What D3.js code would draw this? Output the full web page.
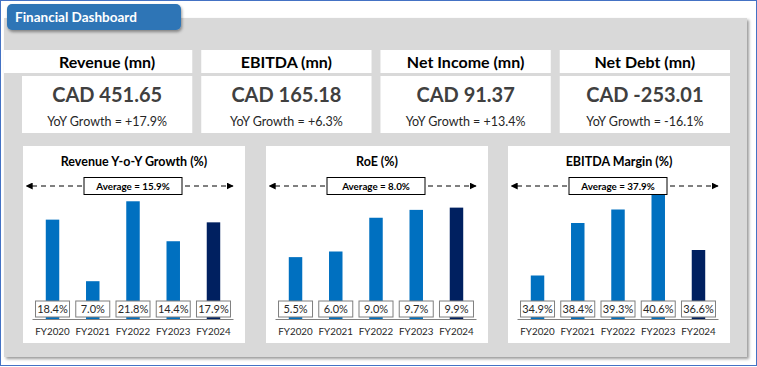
<!DOCTYPE html>
<html lang="en">
<head>
<meta charset="UTF-8">
<title>Financial Dashboard</title>
<script src="https://d3js.org/d3.v7.min.js"></script>
<style>
    html, body { margin: 0; padding: 0; background: #fff; }
    body { font-family: 'Lato', 'Open Sans', sans-serif; }
    svg { display: block; }
</style>
</head>
<body>
<div id="dash"></div>
<script>
    // KPI cards
    const kpiTitles = ["Revenue (mn)", "EBITDA (mn)", "Net Income (mn)", "Net Debt (mn)"];
    const kpiValues = [451.65, 165.18, 91.37, -253.01];
    const kpiGrowth = [17.9, 6.3, 13.4, -16.1];

    // charts
    const years = ["FY2020", "FY2021", "FY2022", "FY2023", "FY2024"];
    const revenueGrowth = [18.4, 7.0, 21.8, 14.4, 17.9];
    const roe = [5.5, 6.0, 9.0, 9.7, 9.9];
    const ebitdaMargin = [34.9, 38.4, 39.3, 40.6, 36.6];
    const chartTitles = ["Revenue Y-o-Y Growth (%)", "RoE (%)", "EBITDA Margin (%)"];
    const chartAverages = [15.9, 8.0, 37.9];
    const chartDomains = [[0, 25], [0, 12], [32, 41]];

    const W = 757, H = 367;
    const svg = d3.select("#dash").append("svg")
        .attr("width", W).attr("height", H);

    const defs = svg.append("defs");
    const sh = defs.append("filter").attr("id", "shadow")
        .attr("x", "-5%").attr("y", "-5%").attr("width", "110%").attr("height", "115%");
    sh.append("feDropShadow").attr("dx", 2).attr("dy", 2).attr("stdDeviation", 1.5)
        .attr("flood-color", "#000").attr("flood-opacity", 0.4);
    const sh2 = defs.append("filter").attr("id", "tabShadow")
        .attr("x", "-10%").attr("y", "-20%").attr("width", "120%").attr("height", "150%");
    sh2.append("feDropShadow").attr("dx", 1).attr("dy", 2).attr("stdDeviation", 1.5)
        .attr("flood-color", "#000").attr("flood-opacity", 0.4);

    ["start", "end"].forEach(k => {
        defs.append("marker").attr("id", "arrow-" + k)
            .attr("viewBox", "0 0 10 10").attr("refX", k === "end" ? 9 : 1).attr("refY", 5)
            .attr("markerWidth", 7).attr("markerHeight", 7)
            .attr("markerUnits", "userSpaceOnUse")
            .attr("orient", "auto-start-reverse")
            .append("path").attr("d", "M0,0 L10,5 L0,10 z").attr("fill", "#000");
    });

    // outer frame
    svg.append("rect").attr("x", 0.5).attr("y", 0.5).attr("width", W - 1).attr("height", H - 2)
        .attr("fill", "#fff").attr("stroke", "#4472c4").attr("stroke-width", 1);

    // grey panel
    svg.append("rect").attr("x", 4).attr("y", 18).attr("width", 743).attr("height", 339)
        .attr("fill", "#d9d9d9").attr("filter", "url(#shadow)");

    // header tab
    svg.append("rect").attr("x", 7).attr("y", 4).attr("width", 174).attr("height", 26)
        .attr("rx", 5).attr("fill", "#2e75b6").attr("filter", "url(#tabShadow)");
    svg.append("text").attr("x", 15).attr("y", 22)
        .attr("fill", "#fff").attr("font-weight", 700).attr("font-size", 13.5)
        .text("Financial Dashboard");

    // KPI cards
    const cardX = d3.scaleBand().domain(d3.range(4)).range([22, 730]).paddingInner(0.05);
    kpiTitles.forEach((t, i) => {
        const x0 = cardX(i), w = cardX.bandwidth();
        const tx = i === 0 ? 4 : x0;
        const tw = i === 0 ? x0 + w - 4 : w;
        const g = svg.append("g");
        g.append("rect").attr("x", tx).attr("y", 50).attr("width", tw).attr("height", 23).attr("fill", "#fff");
        g.append("rect").attr("x", x0).attr("y", 76).attr("width", w).attr("height", 57).attr("fill", "#fff");
        const cx = x0 + w / 2;
        g.append("text").attr("x", cx).attr("y", 67.5).attr("text-anchor", "middle")
            .attr("font-weight", 700).attr("font-size", 16).attr("fill", "#000").text(t);
        g.append("text").attr("x", cx).attr("y", 102).attr("text-anchor", "middle")
            .attr("font-weight", 700).attr("font-size", 20).attr("fill", "#404040")
            .text("CAD " + kpiValues[i].toFixed(2));
        const gr = kpiGrowth[i];
        g.append("text").attr("x", cx).attr("y", 126).attr("text-anchor", "middle")
            .attr("font-size", 12.5).attr("fill", "#262626")
            .text("YoY Growth = " + (gr >= 0 ? "+" : "") + gr.toFixed(1) + "%");
    });

    // bar charts
    const chartSeries = [revenueGrowth, roe, ebitdaMargin];
    const panelX = [23, 266, 508];
    const panelW = 222, panelTop = 146, panelH = 197;
    const baseY = 319, plotH = 135;

    chartSeries.forEach((vals, ci) => {
        const px = panelX[ci];
        const g = svg.append("g");
        g.append("rect").attr("x", px).attr("y", panelTop).attr("width", panelW).attr("height", panelH)
            .attr("fill", "#fff");

        const x = d3.scaleBand().domain(years).range([px + 9.5, px + 210.5]).paddingInner(0.665).paddingOuter(0.33);
        const y = d3.scaleLinear().domain(chartDomains[ci]).range([baseY, baseY - plotH]);

        g.append("text").attr("x", px + panelW / 2).attr("y", 166).attr("text-anchor", "middle")
            .attr("font-weight", 700).attr("font-size", 12.5).attr("fill", "#000")
            .text(chartTitles[ci]);

        // bars
        g.selectAll(".bar").data(vals).join("rect")
            .attr("x", (d, i) => x(years[i]))
            .attr("y", d => y(d))
            .attr("width", x.bandwidth())
            .attr("height", d => baseY - y(d))
            .attr("fill", (d, i) => i === vals.length - 1 ? "#002060" : "#0070c0");

        // axis
        const axis = g.append("g").attr("transform", `translate(0,${baseY})`)
            .call(d3.axisBottom(x).tickSize(0).tickPadding(9));
        axis.select(".domain").attr("stroke", "#808080").attr("d", `M${px + 9.5},0.5H${px + 210.5}`);
        axis.selectAll("text").attr("font-family", "Lato, sans-serif").attr("font-size", 9.8).attr("fill", "#262626");

        // value label boxes
        const lab = g.selectAll(".lab").data(vals).join("g")
            .attr("transform", (d, i) => `translate(${x(years[i]) + x.bandwidth() / 2},309)`);
        lab.append("rect").attr("x", -17).attr("y", -8).attr("width", 34).attr("height", 16)
            .attr("fill", "#fff").attr("stroke", "#7f7f7f").attr("stroke-width", 1);
        lab.append("text").attr("y", 4).attr("text-anchor", "middle")
            .attr("font-size", 11).attr("fill", "#262626")
            .text(d => d.toFixed(1) + "%");

        // average annotation
        const cx = px + panelW / 2 - 1;
        g.append("line").attr("x1", px + 9).attr("x2", px + 210).attr("y1", 186).attr("y2", 186)
            .attr("stroke", "#000").attr("stroke-width", 1).attr("stroke-dasharray", "5,4")
            .attr("marker-start", "url(#arrow-start)").attr("marker-end", "url(#arrow-end)");
        g.append("rect").attr("x", cx - 49).attr("y", 177.5).attr("width", 98).attr("height", 17)
            .attr("fill", "#fff").attr("stroke", "#000").attr("stroke-width", 1);
        g.append("text").attr("x", cx).attr("y", 189.5).attr("text-anchor", "middle")
            .attr("font-weight", 700).attr("font-size", 9.8).attr("fill", "#000")
            .text("Average = " + chartAverages[ci].toFixed(1) + "%");
    });
</script>
</body>
</html>
